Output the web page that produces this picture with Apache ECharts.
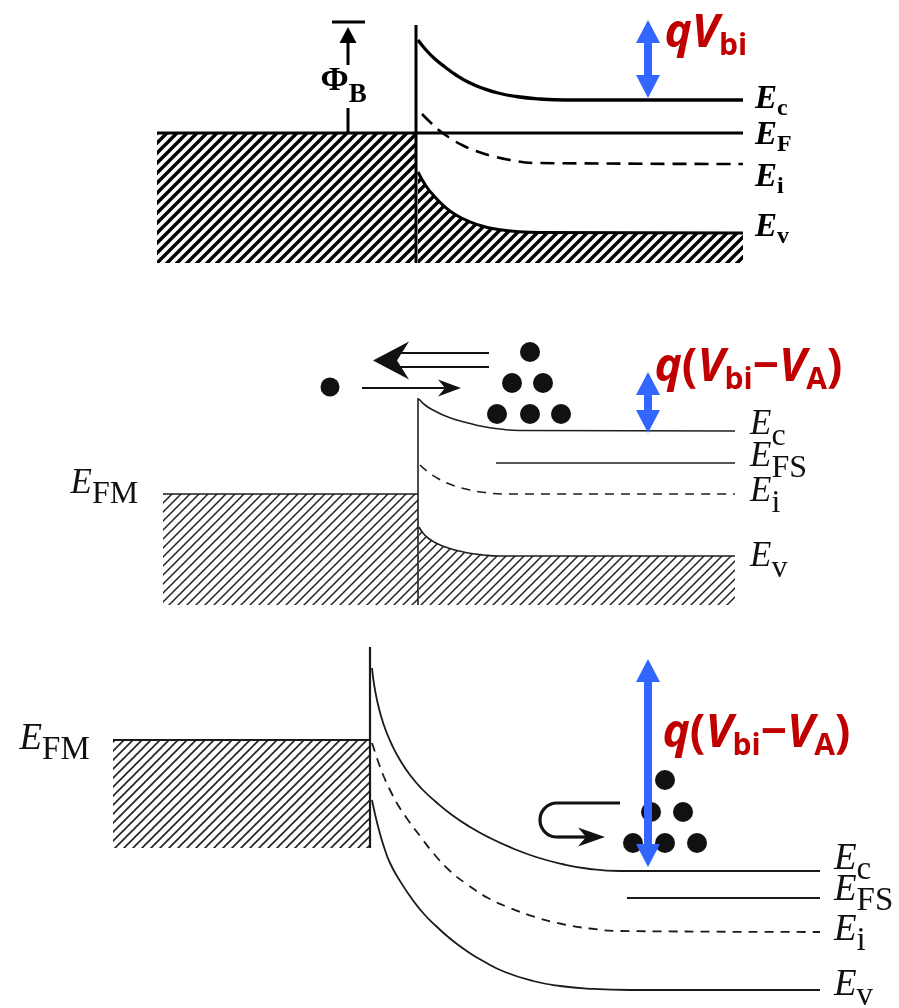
<!DOCTYPE html>
<html>
<head>
<meta charset="utf-8">
<title>Metal-semiconductor band diagrams</title>
<script src="https://cdn.jsdelivr.net/npm/echarts@6.0.0/dist/echarts.min.js"></script>
<style>
  html, body { margin: 0; padding: 0; background: #fff; }
  #chart { width: 899px; height: 1008px; }
</style>
</head>
<body>
<div id="chart"></div>
<script>
// x = position, y = energy (arbitrary units), one pair of axes per panel

// panel 1: equilibrium
const eqEc = [[41.8,24.0],[42.6,23.0],[43.5,22.1],[44.5,21.3],[45.6,20.5],[46.8,19.8],[48.2,19.2],[49.8,18.7],[51.6,18.35],[54.0,18.1],[56.5,18.0],[74.3,18.0]];
const eqEF = [[15.7,14.7],[74.3,14.7]];
const eqMetal = [[15.7,14.7],[41.6,14.7]];
const eqEi = [[42.2,16.6],[43.0,15.8],[44.0,14.9],[45.0,14.2],[46.2,13.5],[47.6,12.9],[49.2,12.4],[51.0,12.0],[53.5,11.7],[74.3,11.6]];
const eqEv = [[41.8,10.8],[42.6,9.4],[43.5,8.3],[44.5,7.3],[45.6,6.5],[46.8,5.9],[48.2,5.4],[49.8,5.05],[51.6,4.85],[54.0,4.75],[74.3,4.7]];
const eqInterface = [[41.6,25.5],[41.6,1.7]];
const eqBase = 1.7;
const eqBarrier = [[34.8,25.8,25.3,21.5,17.2,14.7]];  // x, bar, tip, shaft end, lower start, E_F
const eqVbi = [[64.8,26.0,18.2]];

// panel 2: forward bias
const fwEc = [[41.9,22.1],[42.5,21.5],[43.3,21.0],[44.3,20.5],[45.5,20.05],[46.8,19.7],[48.3,19.35],[50.0,19.1],[52.0,18.95],[73.5,18.9]];
const fwEFS = [[49.6,15.7],[73.5,15.7]];
const fwEi = [[42.0,15.5],[42.8,14.8],[43.7,14.2],[44.7,13.7],[45.8,13.3],[47.0,13.0],[48.5,12.75],[50.5,12.6],[73.5,12.6]];
const fwEv = [[41.9,9.3],[42.3,8.7],[42.8,8.2],[43.5,7.75],[44.4,7.35],[45.5,7.0],[46.8,6.7],[48.3,6.5],[50.0,6.4],[73.5,6.4]];
const fwEFM = [[16.3,12.6],[41.8,12.6]];
const fwInterface = [[41.8,22.2],[41.8,1.5]];
const fwBase = 1.5;
const fwElectrons = [[53.0,26.8],[51.2,23.7],[54.3,23.7],[49.7,20.6],[53.0,20.6],[56.1,20.6]];
const fwLoneElectron = [[33.0,23.3]];
const fwInjection = [[36.2,23.2,46.1]];               // from x, y, to x
const fwEmission = [[37.3,25.95,48.9,26.7,25.3]];     // tip x, tip y, tail x, shaft y1, shaft y2
const fwVbi = [[64.8,24.8,18.7]];

// panel 3: reverse bias
const rvEc = [[37.2,34.0],[37.4,32.4],[37.7,30.8],[38.1,29.2],[38.6,27.7],[39.2,26.3],[40.0,24.8],[41.0,23.3],[42.2,21.9],[43.6,20.6],[45.2,19.3],[47.0,18.1],[49.0,17.0],[51.2,16.0],[53.6,15.1],[56.2,14.4],[59.0,13.9],[62.0,13.7],[82.0,13.7]];
const rvEFS = [[62.7,11.0],[82.0,11.0]];
const rvEi = [[37.2,26.5],[37.5,25.6],[37.9,24.4],[38.4,23.1],[39.0,21.8],[39.8,20.3],[40.8,18.8],[42.0,17.2],[43.4,15.4],[45.0,13.7],[46.8,12.3],[48.8,11.0],[51.0,10.0],[53.5,9.1],[56.2,8.4],[59.0,7.95],[62.0,7.7],[82.0,7.6]];
const rvEv = [[37.2,20.8],[37.5,19.4],[37.9,17.8],[38.4,16.1],[39.0,14.5],[40.0,12.7],[41.2,10.9],[42.4,9.4],[43.6,8.2],[45.0,6.95],[46.6,5.75],[48.3,4.7],[50.5,3.6],[53.3,2.7],[56.0,2.2],[59.0,1.92],[63.0,1.8],[82.0,1.8]];
const rvEFM = [[11.3,26.8],[37.0,26.8]];
const rvInterface = [[37.0,36.1],[37.0,16.0]];
const rvBase = 16.0;
const rvElectrons = [[66.5,22.8],[65.1,19.6],[68.3,19.6],[63.3,16.5],[66.5,16.5],[69.7,16.5]];
const rvReflection = [[62.0,20.5,55.7,17.1,60.5]];   // start x, top y, bend x, bottom y, tip x
const rvVbi = [[64.8,34.9,14.1]];

const SERIF = '"Liberation Serif", "DejaVu Serif", serif';
const SANS = '"Open Sans", Lato, "Liberation Sans", sans-serif';
const RED = '#c00000';
const BLUE = '#3366ff';

function hatch(step, width, color) {
  const c = document.createElement('canvas');
  c.width = c.height = step;
  const g = c.getContext('2d');
  g.strokeStyle = color;
  g.lineWidth = width;
  g.beginPath();
  g.moveTo(-step, step); g.lineTo(step, -step);
  g.moveTo(0, step); g.lineTo(step, 0);
  g.moveTo(0, 2 * step); g.lineTo(2 * step, 0);
  g.stroke();
  return {image: c, repeat: 'repeat'};
}

const richTop = {
  e: {fontFamily: SERIF, fontStyle: 'italic', fontWeight: 'bold', fontSize: 33, lineHeight: 43, color: '#000'},
  s: {fontFamily: SERIF, fontWeight: 'bold', fontSize: 24, lineHeight: 24, verticalAlign: 'bottom', color: '#000'},
  f: {fontFamily: SERIF, fontWeight: 'bold', fontSize: 34, lineHeight: 54, color: '#000'},
  b: {fontFamily: SERIF, fontWeight: 'bold', fontSize: 27, lineHeight: 28, verticalAlign: 'bottom', color: '#000'}
};
const richMid = {
  e: {fontFamily: SERIF, fontStyle: 'italic', fontSize: 35, lineHeight: 55, color: '#111'},
  s: {fontFamily: SERIF, fontSize: 32, lineHeight: 32, verticalAlign: 'bottom', color: '#111'}
};
const richLow = {
  e: {fontFamily: SERIF, fontStyle: 'italic', fontSize: 37, lineHeight: 55, color: '#111'},
  s: {fontFamily: SERIF, fontSize: 33, lineHeight: 33, verticalAlign: 'bottom', color: '#111'}
};
const richRed = {
  i: {fontFamily: SANS, fontWeight: 'bold', fontStyle: 'italic', fontSize: 46, lineHeight: 54, color: RED},
  p: {fontFamily: SANS, fontWeight: 'bold', fontSize: 46, lineHeight: 54, color: RED},
  s: {fontFamily: SANS, fontWeight: 'bold', fontSize: 30, lineHeight: 30, verticalAlign: 'bottom', color: RED}
};

function band(g, data, color, width, opts) {
  opts = opts || {};
  const s = {
    type: 'line', xAxisIndex: g, yAxisIndex: g, data: data,
    symbol: 'none', smooth: opts.smooth ? 0.5 : false,
    lineStyle: {color: color, width: width, type: opts.dash || 'solid', opacity: opts.hideLine ? 0 : 1},
    silent: true, z: 3
  };
  if (opts.area) s.areaStyle = {color: opts.area, opacity: 1, origin: opts.base};
  if (opts.label) {
    s.endLabel = {show: true, formatter: () => opts.label, rich: opts.rich,
      distance: opts.dist, offset: [0, opts.dy || 0]};
  }
  return s;
}

function dots(g, data, size) {
  return {type: 'scatter', xAxisIndex: g, yAxisIndex: g, data: data, symbolSize: size,
    itemStyle: {color: '#111', opacity: 1}, silent: true, z: 5};
}

function note(g, pos, text, rich) {
  return {
    type: 'scatter', xAxisIndex: g, yAxisIndex: g, data: [pos], symbolSize: 1,
    itemStyle: {color: 'rgba(0,0,0,0)', opacity: 1}, silent: true, z: 20,
    label: {show: true, position: 'right', distance: 0, formatter: () => text, rich: rich}
  };
}

function custom(g, data, renderItem, z) {
  return {type: 'custom', xAxisIndex: g, yAxisIndex: g, data: data, renderItem: renderItem, silent: true, z: z || 10};
}

function renderDoubleArrow(params, api) {
  const x = api.value(0);
  const top = api.coord([x, api.value(1)]);
  const bot = api.coord([x, api.value(2)]);
  const h = 23, w = 12, s = 4;
  return {type: 'group', children: [
    {type: 'rect', shape: {x: top[0] - s, y: top[1] + h - 1, width: 2 * s, height: Math.max(0, bot[1] - top[1] - 2 * h + 2)}, style: {fill: BLUE}},
    {type: 'polygon', shape: {points: [[top[0], top[1]], [top[0] - w, top[1] + h], [top[0] + w, top[1] + h]]}, style: {fill: BLUE}},
    {type: 'polygon', shape: {points: [[bot[0], bot[1]], [bot[0] - w, bot[1] - h], [bot[0] + w, bot[1] - h]]}, style: {fill: BLUE}}
  ]};
}

function renderBarrier(params, api) {
  const x = api.value(0);
  const bar = api.coord([x, api.value(1)]);
  const tip = api.coord([x, api.value(2)]);
  const shaftEnd = api.coord([x, api.value(3)]);
  const lowTop = api.coord([x, api.value(4)]);
  const lowBot = api.coord([x, api.value(5)]);
  const ink = {stroke: '#000', lineWidth: 3, fill: 'none'};
  return {type: 'group', children: [
    {type: 'line', shape: {x1: bar[0] - 16, y1: bar[1], x2: bar[0] + 17, y2: bar[1]}, style: ink},
    {type: 'polygon', shape: {points: [[tip[0], tip[1]], [tip[0] - 8.5, tip[1] + 16], [tip[0] + 8.5, tip[1] + 16]]}, style: {fill: '#000'}},
    {type: 'line', shape: {x1: tip[0], y1: tip[1] + 14, x2: shaftEnd[0], y2: shaftEnd[1]}, style: ink},
    {type: 'line', shape: {x1: lowTop[0], y1: lowTop[1], x2: lowBot[0], y2: lowBot[1]}, style: ink}
  ]};
}

function renderInjection(params, api) {
  const a = api.coord([api.value(0), api.value(1)]);
  const b = api.coord([api.value(2), api.value(1)]);
  return {type: 'group', children: [
    {type: 'line', shape: {x1: a[0], y1: a[1], x2: b[0] - 12, y2: b[1]}, style: {stroke: '#111', lineWidth: 2.2, fill: 'none'}},
    {type: 'polygon', shape: {points: [[b[0], b[1]], [b[0] - 23, b[1] - 8.5], [b[0] - 16, b[1]], [b[0] - 23, b[1] + 8.5]]}, style: {fill: '#111'}}
  ]};
}

function renderEmission(params, api) {
  const t = api.coord([api.value(0), api.value(1)]);
  const e1 = api.coord([api.value(2), api.value(3)]);
  const e2 = api.coord([api.value(2), api.value(4)]);
  const ink = {stroke: '#111', lineWidth: 2.2, fill: 'none'};
  return {type: 'group', children: [
    {type: 'line', shape: {x1: t[0] + 26, y1: e1[1], x2: e1[0], y2: e1[1]}, style: ink},
    {type: 'line', shape: {x1: t[0] + 26, y1: e2[1], x2: e2[0], y2: e2[1]}, style: ink},
    {type: 'polygon', shape: {points: [[t[0], t[1]], [t[0] + 36, t[1] - 19], [t[0] + 24, t[1]], [t[0] + 36, t[1] + 19]]}, style: {fill: '#111'}}
  ]};
}

function renderReflection(params, api) {
  const s = api.coord([api.value(0), api.value(1)]);
  const bt = api.coord([api.value(2), api.value(1)]);
  const bb = api.coord([api.value(2), api.value(3)]);
  const t = api.coord([api.value(4), api.value(3)]);
  const r = (bb[1] - bt[1]) / 2;
  const ink = {stroke: '#111', lineWidth: 3.2, fill: 'none'};
  return {type: 'group', children: [
    {type: 'line', shape: {x1: s[0], y1: s[1], x2: bt[0], y2: bt[1]}, style: ink},
    {type: 'arc', shape: {cx: bt[0], cy: bt[1] + r, r: r, startAngle: Math.PI / 2, endAngle: Math.PI * 1.5, clockwise: true}, style: ink},
    {type: 'line', shape: {x1: bb[0], y1: bb[1], x2: t[0] - 18, y2: t[1]}, style: ink},
    {type: 'polygon', shape: {points: [[t[0], t[1]], [t[0] - 27, t[1] - 9.5], [t[0] - 19, t[1]], [t[0] - 27, t[1] + 9.5]]}, style: {fill: '#111'}}
  ]};
}

const hatchTop = hatch(10, 3.4, '#000');
const hatchMid = hatch(9, 1.5, '#222');
const hatchLow = hatch(9, 1.6, '#222');

const K1 = '#000', K2 = '#1e1e1e', K3 = '#1a1a1a';

const series = [
  // panel 1
  band(0, eqMetal, K1, 0, {hideLine: true, area: hatchTop, base: eqBase}),
  band(0, eqEv, K1, 3, {smooth: true, area: hatchTop, base: eqBase, label: '{e|E}{s|v}', rich: richTop, dist: 12, dy: -6}),
  band(0, eqEc, K1, 3.3, {smooth: true, label: '{e|E}{s|c}', rich: richTop, dist: 12, dy: -1}),
  band(0, eqEF, K1, 3, {label: '{e|E}{s|F}', rich: richTop, dist: 12, dy: 2}),
  band(0, eqEi, K1, 2.6, {smooth: true, dash: [14, 8], label: '{e|E}{s|i}', rich: richTop, dist: 12, dy: 13}),
  band(0, eqInterface, K1, 3),
  custom(0, eqBarrier, renderBarrier),
  custom(0, eqVbi, renderDoubleArrow, 12),
  note(0, [32.0, 19.85], '{f|Φ}{b|B}', richTop),
  note(0, [66.4, 24.6], '{i|qV}{s|bi}', richRed),

  // panel 2
  band(1, fwEFM, K2, 1.6, {area: hatchMid, base: fwBase}),
  band(1, fwEv, K2, 1.6, {smooth: true, area: hatchMid, base: fwBase, label: '{e|E}{s|v}', rich: richMid, dist: 15, dy: 1}),
  band(1, fwEc, K2, 1.6, {smooth: true, label: '{e|E}{s|c}', rich: richMid, dist: 15, dy: -6}),
  band(1, fwEFS, K2, 1.6, {label: '{e|E}{s|FS}', rich: richMid, dist: 15, dy: -6}),
  band(1, fwEi, K2, 1.6, {smooth: true, dash: [9, 7], label: '{e|E}{s|i}', rich: richMid, dist: 15, dy: -2}),
  band(1, fwInterface, K2, 1.6),
  dots(1, fwElectrons, 20),
  dots(1, fwLoneElectron, 19),
  custom(1, fwInjection, renderInjection),
  custom(1, fwEmission, renderEmission),
  custom(1, fwVbi, renderDoubleArrow, 12),
  note(1, [7.0, 13.65], '{e|E}{s|FM}', richMid),
  note(1, [65.4, 25.2], '{i|q}{p|(}{i|V}{s|bi}{p|−}{i|V}{s|A}{p|)}', richRed),

  // panel 3
  band(2, rvEFM, K3, 1.8, {area: hatchLow, base: rvBase}),
  band(2, rvEv, K3, 1.8, {smooth: true, label: '{e|E}{s|v}', rich: richLow, dist: 14, dy: -5}),
  band(2, rvEc, K3, 1.8, {smooth: true, label: '{e|E}{s|c}', rich: richLow, dist: 14, dy: -12}),
  band(2, rvEFS, K3, 1.8, {label: '{e|E}{s|FS}', rich: richLow, dist: 14, dy: -8}),
  band(2, rvEi, K3, 1.8, {smooth: true, dash: [9, 7], label: '{e|E}{s|i}', rich: richLow, dist: 14, dy: -2}),
  band(2, rvInterface, K3, 2.2),
  dots(2, rvElectrons, 20),
  custom(2, rvReflection, renderReflection),
  custom(2, rvVbi, renderDoubleArrow, 12),
  note(2, [1.9, 26.9], '{e|E}{s|FM}', richLow),
  note(2, [66.2, 27.4], '{i|q}{p|(}{i|V}{s|bi}{p|−}{i|V}{s|A}{p|)}', richRed)
];

const chart = echarts.init(document.getElementById('chart'));
chart.setOption({
  animation: false,
  backgroundColor: '#fff',
  grid: [
    {left: 0, right: 0, top: 0, height: 280},
    {left: 0, right: 0, top: 320, height: 300},
    {left: 0, right: 0, top: 630, height: 378}
  ],
  xAxis: [0, 1, 2].map(i => ({type: 'value', gridIndex: i, min: 0, max: 89.9, show: false})),
  yAxis: [28, 30, 37.8].map((m, i) => ({type: 'value', gridIndex: i, min: 0, max: m, show: false})),
  series: series
});
</script>
</body>
</html>
